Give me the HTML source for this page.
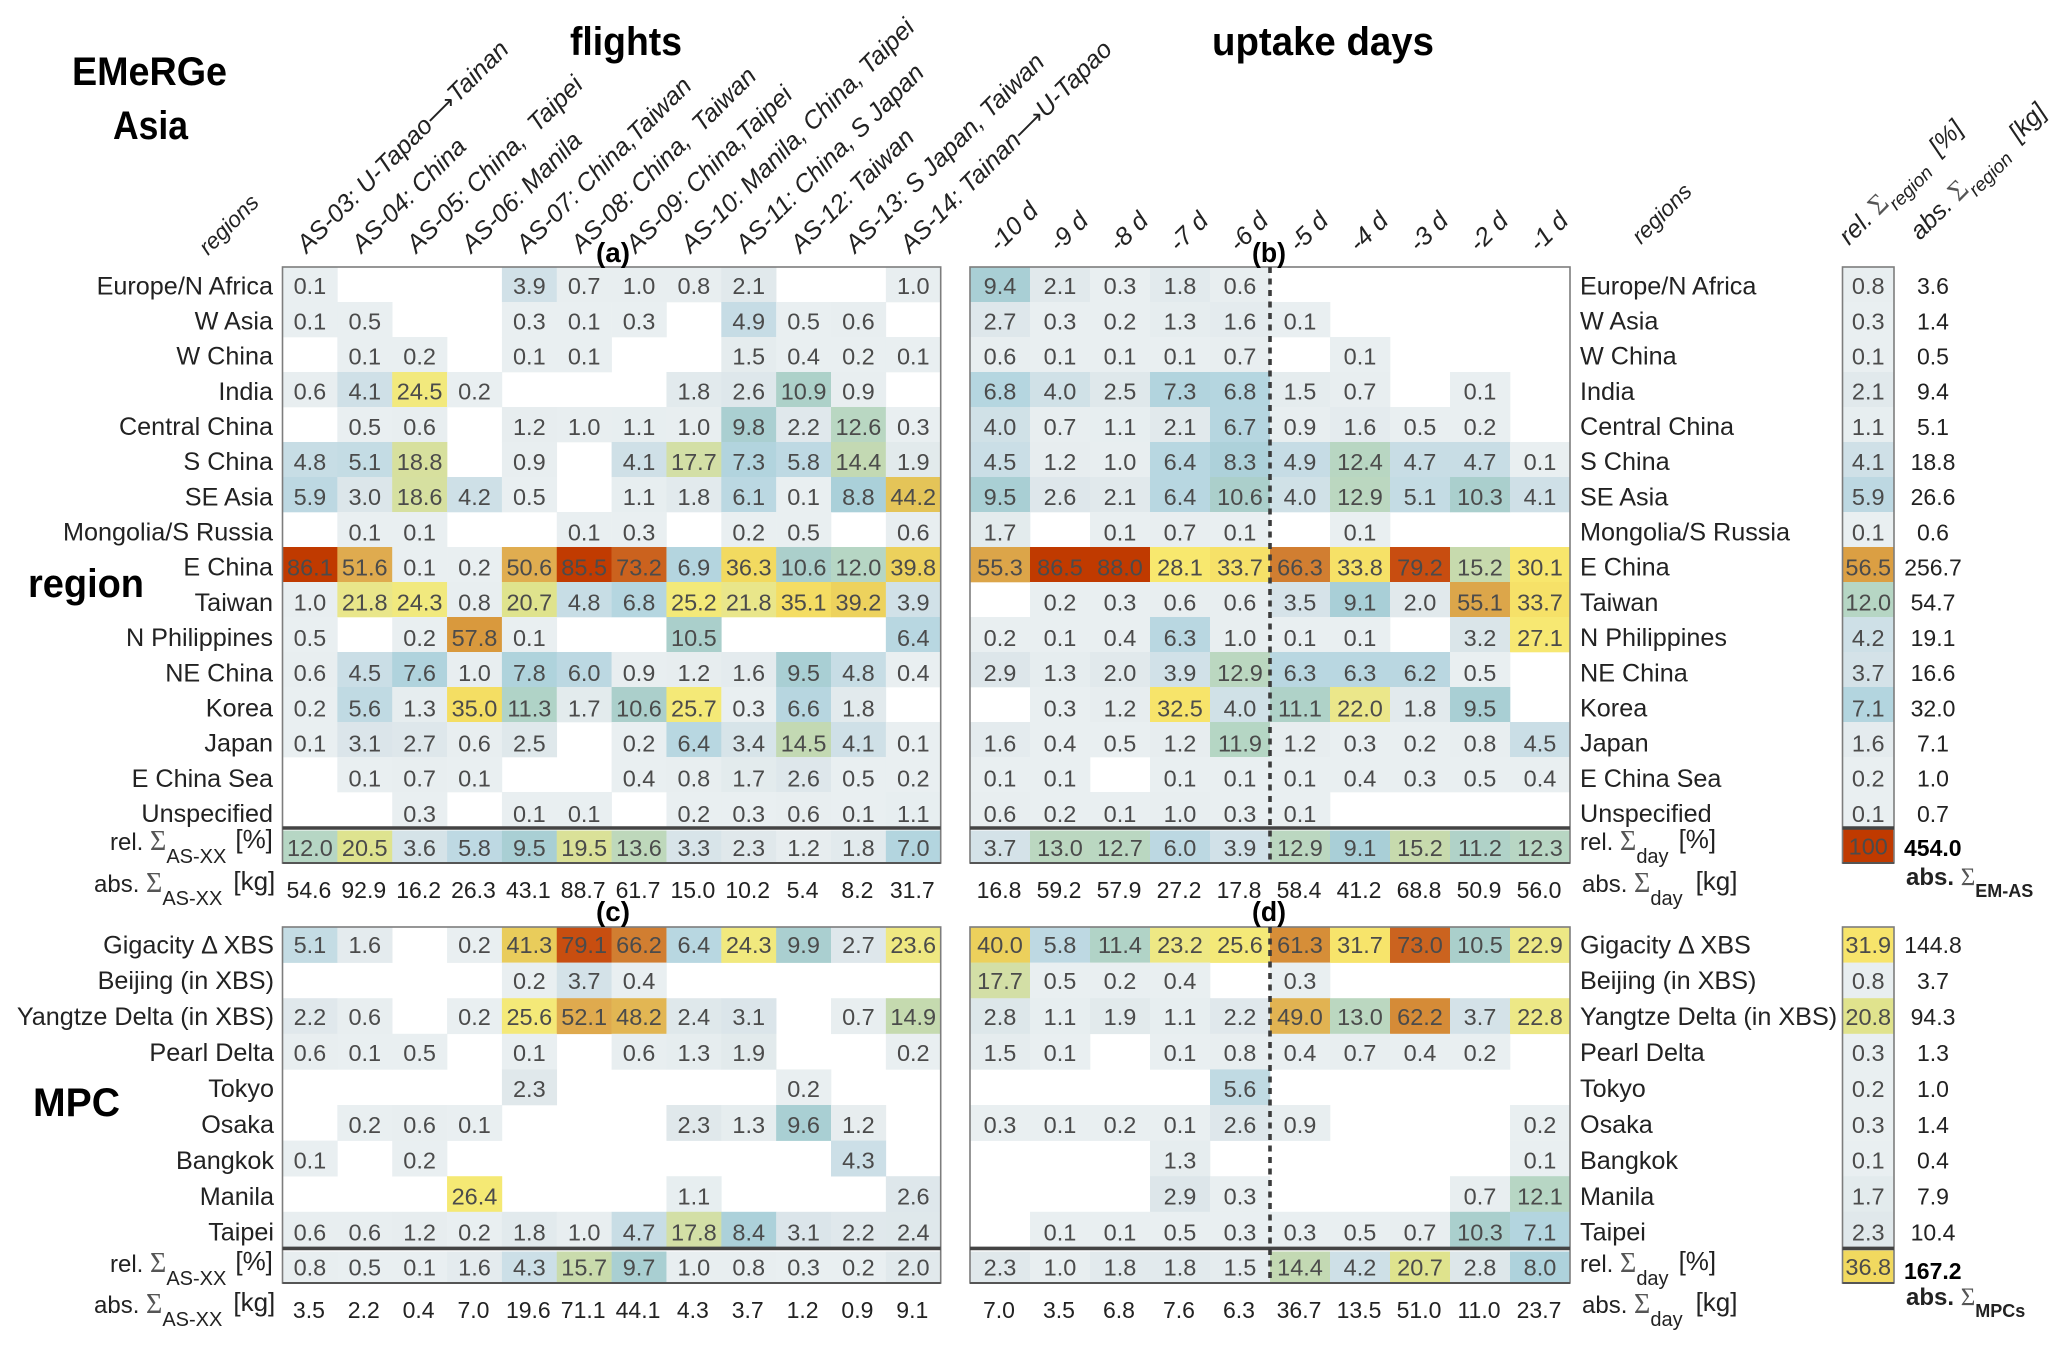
<!DOCTYPE html>
<html lang="en">
<head>
<meta charset="utf-8">
<title>EMeRGe Asia heatmap</title>
<style>
html,body{margin:0;padding:0;background:#fff;}
svg{display:block;font-family:"Liberation Sans",Arial,sans-serif;}
.cellv{font-size:23.5px;fill:#4b4b4b;text-anchor:middle;}
.absv{font-size:23px;fill:#222;text-anchor:middle;}
.rowl{font-size:25.2px;fill:#222;}
.rot{font-size:25.2px;font-style:italic;fill:#222;}
.big{font-weight:bold;fill:#000;font-size:40px;}
.pan{font-weight:bold;fill:#000;font-size:28px;text-anchor:middle;}
.lab{font-size:24px;fill:#222;}
.bold{font-weight:bold;fill:#000;}
</style>
</head>
<body>
<svg id="chart" xmlns="http://www.w3.org/2000/svg" width="2067" height="1348" viewBox="0 0 2067 1348">
<rect x="0" y="0" width="2067" height="1348" fill="#fff"/>
<text class="big" x="72" y="85" textLength="155" lengthAdjust="spacingAndGlyphs">EMeRGe</text>
<text class="big" x="113" y="139" textLength="75" lengthAdjust="spacingAndGlyphs">Asia</text>
<text class="big" x="570" y="55" textLength="112" lengthAdjust="spacingAndGlyphs">flights</text>
<text class="big" x="1212" y="55" textLength="222" lengthAdjust="spacingAndGlyphs">uptake days</text>
<text class="big" x="28" y="597" textLength="116" lengthAdjust="spacingAndGlyphs">region</text>
<text class="big" x="33" y="1116" textLength="87" lengthAdjust="spacingAndGlyphs">MPC</text>
<g id="marks"></g>
</svg>
<script>
var flights = ["AS-03: U-Tapao\u2192Tainan","AS-04: China","AS-05: China,  Taipei","AS-06: Manila","AS-07: China,Taiwan","AS-08: China,  Taiwan","AS-09: China,Taipei","AS-10: Manila, China, Taipei","AS-11: China, S Japan","AS-12: Taiwan","AS-13: S Japan, Taiwan","AS-14: Tainan\u2192U-Tapao"];
var days = ["-10 d","-9 d","-8 d","-7 d","-6 d","-5 d","-4 d","-3 d","-2 d","-1 d"];
var regions = ["Europe/N Africa","W Asia","W China","India","Central China","S China","SE Asia","Mongolia/S Russia","E China","Taiwan","N Philippines","NE China","Korea","Japan","E China Sea","Unspecified"];
var mpcs = ["Gigacity \u0394 XBS","Beijing (in XBS)","Yangtze Delta (in XBS)","Pearl Delta","Tokyo","Osaka","Bangkok","Manila","Taipei"];
var _ = null;
var regionFlights = [
[0.1,_,_,_,3.9,0.7,1.0,0.8,2.1,_,_,1.0],
[0.1,0.5,_,_,0.3,0.1,0.3,_,4.9,0.5,0.6,_],
[_,0.1,0.2,_,0.1,0.1,_,_,1.5,0.4,0.2,0.1],
[0.6,4.1,24.5,0.2,_,_,_,1.8,2.6,10.9,0.9,_],
[_,0.5,0.6,_,1.2,1.0,1.1,1.0,9.8,2.2,12.6,0.3],
[4.8,5.1,18.8,_,0.9,_,4.1,17.7,7.3,5.8,14.4,1.9],
[5.9,3.0,18.6,4.2,0.5,_,1.1,1.8,6.1,0.1,8.8,44.2],
[_,0.1,0.1,_,_,0.1,0.3,_,0.2,0.5,_,0.6],
[86.1,51.6,0.1,0.2,50.6,85.5,73.2,6.9,36.3,10.6,12.0,39.8],
[1.0,21.8,24.3,0.8,20.7,4.8,6.8,25.2,21.8,35.1,39.2,3.9],
[0.5,_,0.2,57.8,0.1,_,_,10.5,_,_,_,6.4],
[0.6,4.5,7.6,1.0,7.8,6.0,0.9,1.2,1.6,9.5,4.8,0.4],
[0.2,5.6,1.3,35.0,11.3,1.7,10.6,25.7,0.3,6.6,1.8,_],
[0.1,3.1,2.7,0.6,2.5,_,0.2,6.4,3.4,14.5,4.1,0.1],
[_,0.1,0.7,0.1,_,_,0.4,0.8,1.7,2.6,0.5,0.2],
[_,_,0.3,_,0.1,0.1,_,0.2,0.3,0.6,0.1,1.1]];
var regionFlightsRel = [12.0,20.5,3.6,5.8,9.5,19.5,13.6,3.3,2.3,1.2,1.8,7.0];
var regionFlightsAbs = [54.6,92.9,16.2,26.3,43.1,88.7,61.7,15.0,10.2,5.4,8.2,31.7];
var regionDays = [
[9.4,2.1,0.3,1.8,0.6,_,_,_,_,_],
[2.7,0.3,0.2,1.3,1.6,0.1,_,_,_,_],
[0.6,0.1,0.1,0.1,0.7,_,0.1,_,_,_],
[6.8,4.0,2.5,7.3,6.8,1.5,0.7,_,0.1,_],
[4.0,0.7,1.1,2.1,6.7,0.9,1.6,0.5,0.2,_],
[4.5,1.2,1.0,6.4,8.3,4.9,12.4,4.7,4.7,0.1],
[9.5,2.6,2.1,6.4,10.6,4.0,12.9,5.1,10.3,4.1],
[1.7,_,0.1,0.7,0.1,_,0.1,_,_,_],
[55.3,86.5,88.0,28.1,33.7,66.3,33.8,79.2,15.2,30.1],
[_,0.2,0.3,0.6,0.6,3.5,9.1,2.0,55.1,33.7],
[0.2,0.1,0.4,6.3,1.0,0.1,0.1,_,3.2,27.1],
[2.9,1.3,2.0,3.9,12.9,6.3,6.3,6.2,0.5,_],
[_,0.3,1.2,32.5,4.0,11.1,22.0,1.8,9.5,_],
[1.6,0.4,0.5,1.2,11.9,1.2,0.3,0.2,0.8,4.5],
[0.1,0.1,_,0.1,0.1,0.1,0.4,0.3,0.5,0.4],
[0.6,0.2,0.1,1.0,0.3,0.1,_,_,_,_]];
var regionDaysRel = [3.7,13.0,12.7,6.0,3.9,12.9,9.1,15.2,11.2,12.3];
var regionDaysAbs = [16.8,59.2,57.9,27.2,17.8,58.4,41.2,68.8,50.9,56.0];
var regionTotalRel = [0.8,0.3,0.1,2.1,1.1,4.1,5.9,0.1,56.5,12.0,4.2,3.7,7.1,1.6,0.2,0.1];
var regionTotalAbs = [3.6,1.4,0.5,9.4,5.1,18.8,26.6,0.6,256.7,54.7,19.1,16.6,32.0,7.1,1.0,0.7];
var regionGrandRel = 100;
var regionGrandAbs = 454.0;
var mpcFlights = [
[5.1,1.6,_,0.2,41.3,79.1,66.2,6.4,24.3,9.9,2.7,23.6],
[_,_,_,_,0.2,3.7,0.4,_,_,_,_,_],
[2.2,0.6,_,0.2,25.6,52.1,48.2,2.4,3.1,_,0.7,14.9],
[0.6,0.1,0.5,_,0.1,_,0.6,1.3,1.9,_,_,0.2],
[_,_,_,_,2.3,_,_,_,_,0.2,_,_],
[_,0.2,0.6,0.1,_,_,_,2.3,1.3,9.6,1.2,_],
[0.1,_,0.2,_,_,_,_,_,_,_,4.3,_],
[_,_,_,26.4,_,_,_,1.1,_,_,_,2.6],
[0.6,0.6,1.2,0.2,1.8,1.0,4.7,17.8,8.4,3.1,2.2,2.4]];
var mpcFlightsRel = [0.8,0.5,0.1,1.6,4.3,15.7,9.7,1.0,0.8,0.3,0.2,2.0];
var mpcFlightsAbs = [3.5,2.2,0.4,7.0,19.6,71.1,44.1,4.3,3.7,1.2,0.9,9.1];
var mpcDays = [
[40.0,5.8,11.4,23.2,25.6,61.3,31.7,73.0,10.5,22.9],
[17.7,0.5,0.2,0.4,_,0.3,_,_,_,_],
[2.8,1.1,1.9,1.1,2.2,49.0,13.0,62.2,3.7,22.8],
[1.5,0.1,_,0.1,0.8,0.4,0.7,0.4,0.2,_],
[_,_,_,_,5.6,_,_,_,_,_],
[0.3,0.1,0.2,0.1,2.6,0.9,_,_,_,0.2],
[_,_,_,1.3,_,_,_,_,_,0.1],
[_,_,_,2.9,0.3,_,_,_,0.7,12.1],
[_,0.1,0.1,0.5,0.3,0.3,0.5,0.7,10.3,7.1]];
var mpcDaysRel = [2.3,1.0,1.8,1.8,1.5,14.4,4.2,20.7,2.8,8.0];
var mpcDaysAbs = [7.0,3.5,6.8,7.6,6.3,36.7,13.5,51.0,11.0,23.7];
var mpcTotalRel = [31.9,0.8,20.8,0.3,0.2,0.3,0.1,1.7,2.3];
var mpcTotalAbs = [144.8,3.7,94.3,1.3,1.0,1.4,0.4,7.9,10.4];
var mpcGrandRel = 36.8;
var mpcGrandAbs = 167.2;

var colorScale = [[0,"#e9eff1"],[1,"#e8eef0"],[2,"#e1e9ec"],[3,"#dce6ea"],[4.5,"#cadee6"],[6,"#bcd8e2"],[7,"#b3d5df"],[9,"#a9cfd8"],[10.5,"#aacfcb"],[12,"#b6d6c4"],[13,"#bbd7c0"],[15,"#c6daae"],[18,"#d4dfa5"],[20.7,"#dfe38d"],[22,"#ebe78a"],[25,"#f3e97a"],[28,"#f8e86e"],[33,"#f7e36a"],[36,"#f2db60"],[40,"#ecd05c"],[44,"#e4c558"],[51,"#e0ac50"],[55,"#dca64a"],[58,"#d9983c"],[66,"#d17f32"],[73,"#cb631f"],[79,"#c84e10"],[86,"#c03a00"],[100,"#c03a00"]];

var SVGNS = "http://www.w3.org/2000/svg";
var root = document.getElementById("marks");
function hex(c){return [parseInt(c.substr(1,2),16),parseInt(c.substr(3,2),16),parseInt(c.substr(5,2),16)];}
function colorOf(v){
  for(var i=1;i<colorScale.length;i++){
    if(v<=colorScale[i][0]){
      var a=colorScale[i-1],b=colorScale[i],t=(v-a[0])/(b[0]-a[0]),p=hex(a[1]),q=hex(b[1]);
      return "rgb("+Math.round(p[0]+(q[0]-p[0])*t)+","+Math.round(p[1]+(q[1]-p[1])*t)+","+Math.round(p[2]+(q[2]-p[2])*t)+")";
    }
  }
  return "#c03a00";
}
function mk(tag,attrs,parent){
  var e=document.createElementNS(SVGNS,tag);
  for(var k in attrs){e.setAttribute(k,attrs[k]);}
  (parent||root).appendChild(e);
  return e;
}
function fmt(v){return v===100?"100":v.toFixed(1);}
function xAxis(x0,cw){return function(i){return x0+i*cw;};}
function yAxis(y0,rh){return function(j){return y0+j*rh;};}
function textY(y,rh,j,base,delta){return y+rh/2+8.3+base+j*delta;}
function cell(g,x,y,cw,rh,v,name,tOff){
  if(v===null){return;}
  var r=mk("rect",{x:x,y:y,width:cw+0.3,height:rh+0.3,fill:colorOf(v)},g);
  
  
  var t=mk("text",{x:x+cw/2,y:y+rh/2+8.3+(tOff||0),"class":"cellv"},g);
  
  
  t.textContent=fmt(v);
}
function label(x,y,str,cls,anchor,name){
  var t=mk("text",{x:x,y:y,"class":cls,"text-anchor":anchor||"start"});
  
  
  t.textContent=str;
  return t;
}
function frame(x,y,w,h,sepY,name){
  var f=mk("rect",{x:x,y:y,width:w,height:h,fill:"none",stroke:"#7d7d7d","stroke-width":1.6});
  
  
  var b=mk("line",{x1:x,x2:x+w,y1:y+h,y2:y+h,stroke:"#555","stroke-width":2});
  
  
  var s=mk("line",{x1:x,x2:x+w,y1:sepY,y2:sepY,stroke:"#444","stroke-width":3.6});
  
  
}
function drawPanel(name,matrix,rel,abs,x0,cw,y0,rh,sumY,sumH,absY,bottom,base,delta,sumOff){
  var g=mk("g",{});
  
  
  var X=xAxis(x0,cw),Y=yAxis(y0,rh);
  matrix.forEach(function(row,j){
    row.forEach(function(v,i){cell(g,X(i),Y(j),cw,rh,v,name,base+j*delta);});
  });
  rel.forEach(function(v,i){cell(g,X(i),sumY,cw,sumH,v,name+'-rel-sum',sumOff);});
  abs.forEach(function(v,i){
    label(X(i)+cw/2-1,absY,fmt(v),"absv","middle",name+'-abs-sum');
  });
  frame(x0,y0,cw*rel.length,bottom-y0,y0+rh*matrix.length+1,name);
}
function drawRight(name,rel,abs,x0,w,y0,rh,grand,grandY,grandH,bottom,grandAbs,grandAbsY,base,delta){
  var g=mk("g",{});
  
  
  var Y=yAxis(y0,rh);
  rel.forEach(function(v,j){
    cell(g,x0,Y(j),w,rh,v,name,base+j*delta);
    label(1933,textY(Y(j),rh,j,base,delta),fmt(abs[j]),"absv","middle",name+'-abs');
  });
  cell(g,x0,grandY,w,grandH,grand,name+'-grand',0);
  frame(x0,y0,w,bottom-y0,y0+rh*rel.length+1,name);
  var t=label(1904,grandAbsY,fmt(grandAbs),"absv bold","start",name+'-grand-abs');
  t.setAttribute('style','text-anchor:start;font-weight:bold;fill:#000');
}
function sumLabel(x,y,pre,sub,post,name,bold,dy,pdx){
  var t=mk("text",{x:x,y:y,"class":"lab"});
  
  
  if(bold){t.setAttribute('font-weight','bold');t.setAttribute('fill','#000');}
  var a=mk("tspan",{},t);a.textContent=pre+" ";
  var s=mk("tspan",{"font-family":"Liberation Serif, serif",fill:"#555","font-size":bold?25:28,"font-weight":"normal"},t);s.textContent="\u03A3";
  var d=dy||13;
  var b=mk("tspan",{dy:d,"font-size":bold?18:20},t);b.textContent=sub;
  if(post){var c=mk("tspan",{dy:-d-2,dx:pdx||9,"font-size":26},t);c.textContent=post;}
  return t;
}
function rotLabel(x,y,parts,name,size){
  var t=mk("text",{x:x,y:y,transform:"rotate(-45 "+x+" "+y+")","class":"rot"});
  
  
  t.setAttribute('xml:space','preserve');
  t.style.whiteSpace="pre";
  if(size){t.style.fontSize=size+"px";}
  if(typeof parts==="string"){
    var arrow=parts.indexOf("\u2192");
    if(arrow<0){t.textContent=parts;}
    else{
      var p1=mk("tspan",{},t);p1.textContent=parts.slice(0,arrow);
      var p2=mk("tspan",{"font-family":"DejaVu Sans, sans-serif","font-style":"normal","font-size":"23"},t);p2.textContent="\u27F6";
      var p3=mk("tspan",{},t);p3.textContent=parts.slice(arrow+1);
    }
  }
  return t;
}

var ax0=282.5, acw=54.85, bx0=970, bcw=60, rx0=1842.5, rw=51.5;
var topY=267, topRh=35, topSum=830.5, topSumH=32, topBottom=863;
var botY=927, botRh=35.6, botSum=1251.5, botSumH=31.5, botBottom=1283;
var topBase=1.3, topDelta=0.18, botBase=0, botDelta=0.33;

flights.forEach(function(s,i){rotLabel(xAxis(ax0,acw)(i)+acw/2-3,254,s,'flight-label');});
days.forEach(function(s,i){rotLabel(xAxis(bx0,bcw)(i)+bcw/2-1,253,s,'day-label');});
rotLabel(208,256,"regions",'regions-header-left',22.5);
rotLabel(1641,245,"regions",'regions-header-right',22.5);

(function(){
  function hdr(x,y,pre,sub,post,name,gap){
    var t=rotLabel(x,y,null,name);
    var a=mk("tspan",{},t);a.textContent=pre+" ";
    var s=mk("tspan",{"font-family":"Liberation Serif, serif","font-style":"normal",fill:"#555","font-size":"28"},t);s.textContent="\u03A3";
    var b=mk("tspan",{dy:9,"font-size":19},t);b.textContent=sub;
    var c=mk("tspan",{dy:-9,dx:gap},t);c.textContent=post;
  }
  hdr(1849,246,"rel.","region","[%]",'rel-region-header',16);
  hdr(1920,241,"abs.","region","[kg]",'abs-region-header',16);
})();

drawPanel('panel-a-region-flights',regionFlights,regionFlightsRel,regionFlightsAbs,ax0,acw,topY,topRh,topSum,topSumH,898,topBottom,topBase,topDelta,1.3);
drawPanel('panel-b-region-days',regionDays,regionDaysRel,regionDaysAbs,bx0,bcw,topY,topRh,topSum,topSumH,898,topBottom,topBase,topDelta,1.3);
drawPanel('panel-c-mpc-flights',mpcFlights,mpcFlightsRel,mpcFlightsAbs,ax0,acw,botY,botRh,botSum,botSumH,1318,botBottom,botBase,botDelta,0);
drawPanel('panel-d-mpc-days',mpcDays,mpcDaysRel,mpcDaysAbs,bx0,bcw,botY,botRh,botSum,botSumH,1318,botBottom,botBase,botDelta,0);
drawRight('region-totals',regionTotalRel,regionTotalAbs,rx0,rw,topY,topRh,regionGrandRel,topSum-1,topSumH+1,topBottom,regionGrandAbs,856,topBase,topDelta);
drawRight('mpc-totals',mpcTotalRel,mpcTotalAbs,rx0,rw,botY,botRh,mpcGrandRel,botSum-1,botSumH+1,botBottom,mpcGrandAbs,1279,botBase,botDelta);

[[topY,topBottom],[botY,botBottom]].forEach(function(p){
  var l=mk("line",{x1:1270,x2:1270,y1:p[0],y2:p[1],stroke:"#3c3c3c","stroke-width":3.6,"stroke-dasharray":"6 5.5"});
  
  
});

regions.forEach(function(s,j){
  var y=yAxis(topY,topRh)(j)+topRh/2+8.5+topBase+j*topDelta;
  label(273,y,s,"rowl","end",'region-label-left');
  label(1580,y,s,"rowl","start",'region-label-right');
});
mpcs.forEach(function(s,j){
  var y=yAxis(botY,botRh)(j)+botRh/2+8.5+botBase+j*botDelta;
  label(274,y,s,"rowl","end",'mpc-label-left');
  label(1580,y,s,"rowl","start",'mpc-label-right');
});

function panelLabel(x,y,s,name){
  var t=label(x,y,s,"pan","middle",name);
  t.setAttribute('textLength','34');
  t.setAttribute('lengthAdjust','spacingAndGlyphs');
}
panelLabel(613,262,"(a)",'panel-label-a');
panelLabel(1269,262,"(b)",'panel-label-b');
panelLabel(613,921,"(c)",'panel-label-c');
panelLabel(1269,921,"(d)",'panel-label-d');

sumLabel(110,850,"rel.","AS-XX","[%]",'rel-sum-label-a',false,13,9);
sumLabel(94,892,"abs.","AS-XX","[kg]",'abs-sum-label-a',false,13,11);
sumLabel(110,1272,"rel.","AS-XX","[%]",'rel-sum-label-c',false,13,9);
sumLabel(94,1313,"abs.","AS-XX","[kg]",'abs-sum-label-c',false,13,11);
sumLabel(1580,850,"rel.","day","[%]",'rel-sum-label-b',false,13,10);
sumLabel(1582,892,"abs.","day","[kg]",'abs-sum-label-b',false,13,13);
sumLabel(1580,1272,"rel.","day","[%]",'rel-sum-label-d',false,13,10);
sumLabel(1582,1313,"abs.","day","[kg]",'abs-sum-label-d',false,13,13);
sumLabel(1906,885,"abs.","EM-AS","",'abs-total-label-em-as',true,12);
sumLabel(1906,1305,"abs.","MPCs","",'abs-total-label-mpcs',true,12);
</script>
</body>
</html>
